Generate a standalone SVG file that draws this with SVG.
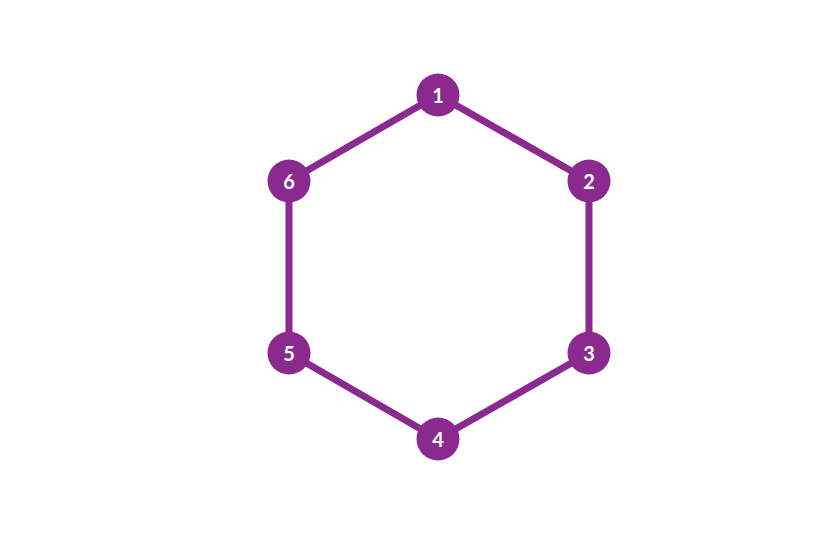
<svg xmlns="http://www.w3.org/2000/svg" width="832" height="537" viewBox="0 0 832 537">
<style>
.edge{stroke:#8a2a8e;stroke-width:7;fill:none;stroke-linecap:round}
.node circle{fill:#8a2a8e}
.node text{fill:#ffffff;font-family:Lato,"Liberation Sans",sans-serif;font-weight:bold;font-size:20px;text-anchor:middle;dominant-baseline:central}
</style>
<rect width="832" height="537" fill="#ffffff"/>
<g id="connectors">
<line class="edge" x1="438" y1="95" x2="589" y2="181"/>
<line class="edge" x1="589" y1="181" x2="589" y2="353"/>
<line class="edge" x1="589" y1="353" x2="438" y2="439"/>
<line class="edge" x1="438" y1="439" x2="289" y2="353"/>
<line class="edge" x1="289" y1="353" x2="289" y2="181"/>
<line class="edge" x1="289" y1="181" x2="438" y2="95"/>
</g>
<g id="node1" class="node"><circle cx="438" cy="95" r="21.5"/><text x="438" y="95">1</text></g>
<g id="node2" class="node"><circle cx="589" cy="181" r="21.5"/><text x="589" y="181">2</text></g>
<g id="node3" class="node"><circle cx="589" cy="353" r="21.5"/><text x="589" y="353">3</text></g>
<g id="node4" class="node"><circle cx="438" cy="439" r="21.5"/><text x="438" y="439">4</text></g>
<g id="node5" class="node"><circle cx="289" cy="353" r="21.5"/><text x="289" y="353">5</text></g>
<g id="node6" class="node"><circle cx="289" cy="181" r="21.5"/><text x="289" y="181">6</text></g>
</svg>
